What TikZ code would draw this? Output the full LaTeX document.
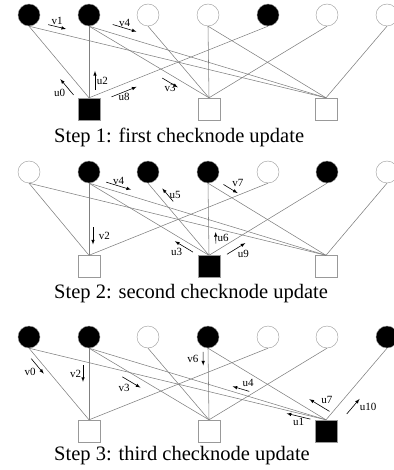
\documentclass[tikz,border=0pt]{standalone}
\usepackage{fontspec}
\setmainfont{Liberation Serif}
\usetikzlibrary{calc}
\tikzset{
  var/.style={circle,draw=gray!80,minimum size=22pt,inner sep=0pt},
  chk/.style={rectangle,draw=gray!80,minimum size=22pt,inner sep=0pt},
  link/.style={gray,line width=.55pt},
  mesg/.style={-latex,line width=.6pt},
  lbl/.style={font=\fontsize{11}{12}\selectfont,inner sep=1.5pt},
  steptext/.style={anchor=base west,inner sep=0pt,font=\fontsize{20.5}{24}\selectfont}
}
% the same graph in every step
\newcommand{\tanner}[1]{\foreach \v/\c in {0/0,0/2,1/0,1/1,1/2,2/1,3/1,3/2,4/0,5/1,6/2}
  \draw[link] (#1v\v.south) -- (#1c\c.north);}
% message arrow beside an edge: from, to, start, end, offset, label place, label
\newcommand{\mesg}[7]{\draw[mesg] ($(#1)!#3!(#2)!#5!90:(#2)$) -- node[lbl,#6]{#7} ($(#1)!#4!(#2)!#5!90:(#2)$);}

\begin{document}
\begin{tikzpicture}[x=1pt,y=-1pt]
\useasboundingbox (0,0) rectangle (393,470);

% step 1
\foreach \i/\x/\f in {0/29/black,1/89/black,2/148/white,3/208/white,4/268/black,5/327/white,6/387/white}
  \node[var,fill=\f] (av\i) at (\x,15) {};
\foreach \j/\x/\f in {0/89/black,1/209/white,2/326/white}
  \node[chk,fill=\f] (ac\j) at (\x,109) {};
\tanner{a}
\mesg{av0.south}{ac2.north}{.06}{.12}{6pt}{above}{v1}
\mesg{av1.south}{ac2.north}{.09}{.19}{8.5pt}{above}{v4}
\mesg{av1.south}{ac1.north}{.64}{.77}{-7pt}{below}{v3}
\mesg{ac0.north}{av0.south}{.13}{.35}{10pt}{below left}{u0}
\mesg{ac0.north}{av1.south}{.11}{.375}{-6pt}{right}{u2}
\mesg{ac0.north}{av4.south}{.11}{.25}{-7.5pt}{below}{u8}
\node[steptext] (cap1) at (54,143) {Step 1: first checknode update};

% step 2
\foreach \i/\x/\f in {0/29/white,1/89/black,2/148/black,3/208/black,4/268/white,5/327/black,6/387/white}
  \node[var,fill=\f] (bv\i) at (\x,172) {};
\foreach \j/\x/\f in {0/89/white,1/209/black,2/326/white}
  \node[chk,fill=\f] (bc\j) at (\x,266.5) {};
\tanner{b}
\mesg{bv1.south}{bc2.north}{.065}{.17}{6pt}{above}{v4}
\mesg{bc1.north}{bv2.south}{.68}{.86}{-7.5pt}{right}{u5}
\mesg{bv1.south}{bc0.north}{.61}{.85}{4pt}{right=4pt}{v2}
\mesg{bc1.north}{bv1.south}{.11}{.26}{5.5pt}{below left}{u3}
\mesg{bv3.south}{bc2.north}{.1}{.22}{7pt}{above right}{v7}
\mesg{bc1.north}{bv3.south}{.16}{.32}{-7pt}{right}{u6}
\mesg{bc1.north}{bv5.south}{.115}{.27}{-8.5pt}{below right}{u9}
\node[steptext] (cap2) at (54,298) {Step 2: second checknode update};

% step 3
\foreach \i/\x/\f in {0/29/black,1/89/black,2/148/white,3/208/black,4/268/white,5/327/white,6/387/black}
  \node[var,fill=\f] (cv\i) at (\x,337) {};
\foreach \j/\x/\f in {0/89/white,1/209/white,2/326/black}
  \node[chk,fill=\f] (cc\j) at (\x,431) {};
\tanner{c}
\mesg{cv0.south}{cc0.north}{.1}{.31}{-5pt}{below left}{v0}
\mesg{cv1.south}{cc0.north}{.24}{.47}{-6pt}{left}{v2}
\mesg{cv1.south}{cc1.north}{.31}{.46}{-7.5pt}{below left}{v3}
\mesg{cv3.south}{cc1.north}{.05}{.24}{-5pt}{left=3pt}{v6}
\mesg{cc2.north}{cv1.south}{.33}{.40}{-5pt}{above right}{u4}
\mesg{cc2.north}{cv0.south}{.05}{.13}{3pt}{below}{u1}
\mesg{cc2.north}{cv3.south}{.01}{.18}{-9pt}{above right}{u7}
\mesg{cc2.north}{cv6.south}{.19}{.4}{-12pt}{right=5pt}{u10}
\node[steptext] (cap3) at (54,460) {Step 3: third checknode update};
\end{tikzpicture}
\end{document}
